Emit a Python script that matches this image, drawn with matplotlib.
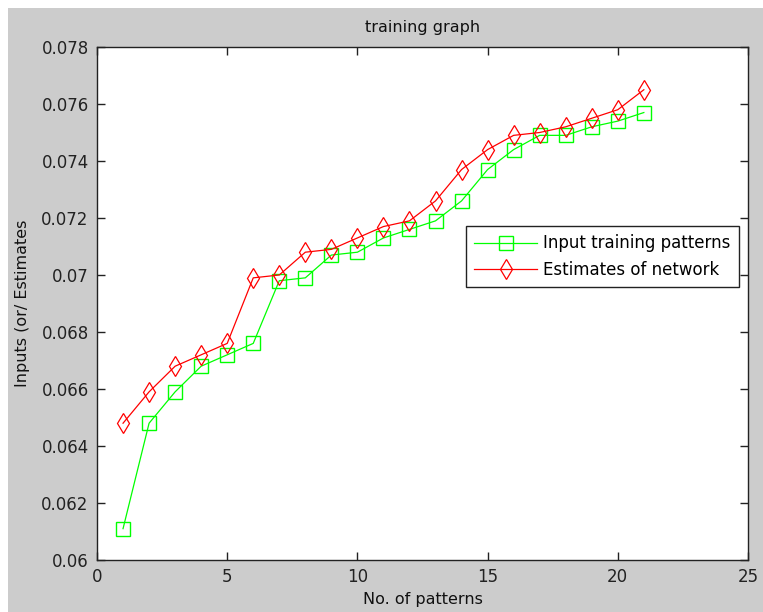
import matplotlib
matplotlib.use('Agg')
import matplotlib.pyplot as plt
from matplotlib.patches import Rectangle
from matplotlib.ticker import FormatStrFormatter

# values
patterns = list(range(1, 22))
inputs = [0.0611, 0.0648, 0.0659, 0.0668, 0.0672, 0.0676, 0.0698, 0.0699,
          0.0707, 0.0708, 0.0713, 0.0716, 0.0719, 0.0726, 0.0737, 0.0744,
          0.0749, 0.0749, 0.0752, 0.0754, 0.0757]
estimates = [0.0648, 0.0659, 0.0668, 0.0672, 0.0676, 0.0699, 0.0700, 0.0708,
             0.0709, 0.0713, 0.0717, 0.0719, 0.0726, 0.0737, 0.0744, 0.0749,
             0.0750, 0.0752, 0.0755, 0.0758, 0.0765]
yticks = [0.06, 0.062, 0.064, 0.066, 0.068, 0.07, 0.072, 0.074, 0.076, 0.078]
xticks = [0, 5, 10, 15, 20, 25]


def main():
    plt.rcParams['font.family'] = ['DejaVu Sans']
    fig = plt.figure(figsize=(7.63, 6.12), dpi=100, facecolor='white')
    # MATLAB-style gray figure area (leaves thin white strip top/left)
    fig.patches.append(Rectangle((8 / 763, 0), 1, 1 - 8 / 612,
                                 transform=fig.transFigure,
                                 facecolor='#cccccc', edgecolor='none', zorder=-1))

    ax = fig.add_axes([97 / 763, 1 - 560 / 612, 651 / 763, 513 / 612])
    ax.set_facecolor('white')

    ax.plot(patterns, inputs, color='#00ff00', lw=0.9, marker='s', ms=10,
            mfc='none', mec='#00ff00', mew=1.0, label='Input training patterns')
    ax.plot(patterns, estimates, color='#ff0000', lw=0.9, marker='d', ms=10.5,
            mfc='none', mec='#ff0000', mew=0.9, label='Estimates of network')

    ax.set_xlim(0, 25)
    ax.set_ylim(0.06, 0.078)
    ax.set_xticks(xticks)
    ax.set_yticks(yticks)
    ax.yaxis.set_major_formatter(FormatStrFormatter('%g'))
    ax.tick_params(direction='in', length=6, width=1, top=True, right=True,
                   labelsize=12, colors='#222222', pad=6)
    for s in ax.spines.values():
        s.set_linewidth(1)
        s.set_color('#222222')

    ax.set_title('training graph', fontsize=11.5, color='#111111', pad=11)
    ax.set_xlabel('No. of patterns', fontsize=11.5, color='#111111', labelpad=4)
    ax.set_ylabel('Inputs (or/ Estimates', fontsize=11.5, color='#111111', labelpad=8)

    leg = ax.legend(loc='upper right', bbox_to_anchor=(0.986, 0.651),
                    fontsize=12, handlelength=3.8, labelspacing=0.5,
                    borderpad=0.5, handletextpad=0.35, borderaxespad=0,
                    fancybox=False, framealpha=1)
    leg.get_frame().set_edgecolor('#222222')
    leg.get_frame().set_linewidth(1)

    fig.savefig('out.png', dpi=100, facecolor=fig.get_facecolor())


if __name__ == '__main__':
    main()
